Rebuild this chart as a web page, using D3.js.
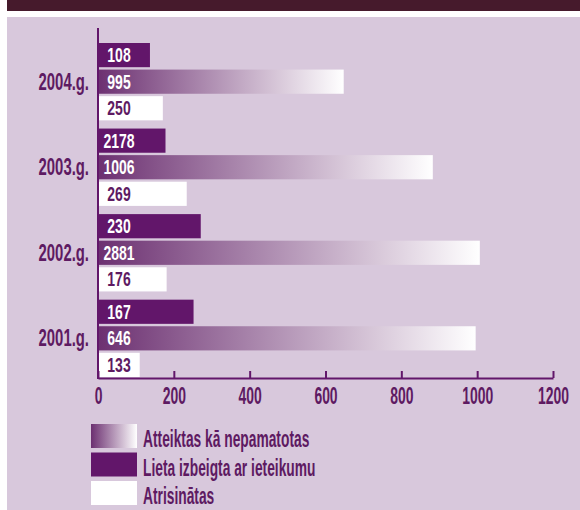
<!DOCTYPE html>
<html>
<head>
<meta charset="utf-8">
<script src="https://cdn.jsdelivr.net/npm/d3@7"></script>
<style>
	body { margin: 0; background: #ffffff; }
	svg text { font-family: 'Liberation Sans', Arial, sans-serif; font-weight: bold; }
</style>
</head>
<body>
<div id="chart"></div>
<script>
'use strict'

// Dati
var years = ["2004.g.", "2003.g.", "2002.g.", "2001.g."];
var series = ["closed", "rejected", "resolved"];
var seriesNames = ["Atteiktas kā nepamatotas", "Lieta izbeigta ar ieteikumu", "Atrisinātas"];

// garums no attēla
var closedValues   = [137, 178, 271, 252];
var rejectedValues = [648, 883, 1007, 996];
var resolvedValues = [171, 234, 181, 110];

// uzraksti uz stabiņiem
var closedLabels   = ["108", "2178", "230", "167"];
var rejectedLabels = ["995", "1006", "2881", "646"];
var resolvedLabels = ["250", "269", "176", "133"];

var xTicks = [0, 200, 400, 600, 800, 1000, 1200];

var purple = '#62166a';
var textPurple = '#5e1a62';

var width = 580;
var height = 510;

var svg = d3.select("#chart")
	.append('svg')
	.attr("width", width)
	.attr("height", height);

var defs = svg.append("defs");
var grad = defs.append("linearGradient")
	.attr("id", "fade")
	.attr("x1", "0%").attr("x2", "100%")
	.attr("y1", "0%").attr("y2", "0%");
grad.append("stop").attr("offset", "0%").attr("stop-color", "#6c3071");
grad.append("stop").attr("offset", "100%").attr("stop-color", "#ffffff");

// fons
svg.append("rect")
	.attr("x", 7).attr("y", 0)
	.attr("width", width - 7).attr("height", 11)
	.attr("fill", "#461a2c");
svg.append("rect")
	.attr("x", 7).attr("y", 17)
	.attr("width", width - 7).attr("height", height - 17)
	.attr("fill", "#d8c8dc");

var x = d3.scaleLinear()
	.domain([0, 1200])
	.range([98, 553]);

var y = d3.scaleBand()
	.domain(years)
	.range([43, 377])
	.paddingInner(0.096);

var ySub = d3.scaleBand()
	.domain(series)
	.range([0, y.bandwidth()])
	.paddingInner(0.09);

var rows = years.map(function(yr, i){
	return [
		{ year: yr, key: "closed", value: closedValues[i], label: closedLabels[i] },
		{ year: yr, key: "rejected", value: rejectedValues[i], label: rejectedLabels[i] },
		{ year: yr, key: "resolved", value: resolvedValues[i], label: resolvedLabels[i] }
	];
});
var bars = [].concat.apply([], rows);

function fillFor(key){
	if(key == "closed") return purple;
	if(key == "rejected") return "url(#fade)";
	return "#ffffff";
}

// šaurs burtu stils (condensed)
function narrow(tx, ty, s){
	return "translate(" + tx + "," + ty + ") scale(" + s + ",1)";
}

svg.append("g")
	.selectAll("rect")
	.data(bars)
	.enter()
	.append("rect")
		.attr("x", x(0))
		.attr("y", function(d){ return y(d.year) + ySub(d.key); })
		.attr("width", function(d){ return x(d.value) - x(0); })
		.attr("height", ySub.bandwidth())
		.attr("fill", function(d){ return fillFor(d.key); });

svg.append("g")
	.selectAll("text")
	.data(bars)
	.enter()
	.append("text")
		.attr("transform", function(d){
			return narrow(119, y(d.year) + ySub(d.key) + ySub.bandwidth() / 2 + 7, 0.7);
		})
		.attr("text-anchor", "middle")
		.style("font-size", "20px")
		.style("fill", function(d){ return d.key == "resolved" ? textPurple : "#ffffff"; })
		.text(function(d){ return d.label; });

// x ass
var xAxis = svg.append("g")
	.attr("transform", "translate(0,378)")
	.call(d3.axisBottom(x)
		.tickValues(xTicks)
		.tickFormat(d3.format("d"))
		.tickSize(-7)
		.tickSizeOuter(0)
		.tickPadding(9));
xAxis.select(".domain").attr("stroke", purple).attr("stroke-width", 2);
xAxis.selectAll(".tick line").attr("stroke", purple).attr("stroke-width", 2);
xAxis.selectAll(".tick text")
	.attr("transform", "scale(0.58,1)")
	.style("font-family", "'Liberation Sans', Arial, sans-serif")
	.style("font-weight", "bold")
	.style("font-size", "24px")
	.style("fill", textPurple);

// y ass
svg.append("line")
	.attr("x1", x(0)).attr("x2", x(0))
	.attr("y1", 28).attr("y2", 379)
	.attr("stroke", purple)
	.attr("stroke-width", 2);

svg.append("g")
	.selectAll("text")
	.data(years)
	.enter()
	.append("text")
		.attr("transform", function(d){ return narrow(89, y(d) + y.bandwidth() / 2 + 8, 0.62); })
		.attr("text-anchor", "end")
		.style("font-size", "24px")
		.style("fill", textPurple)
		.text(function(d){ return d; });

// leģenda
var legendFills = ["url(#fadeLegend)", purple, "#ffffff"];
var lg = defs.append("linearGradient")
	.attr("id", "fadeLegend")
	.attr("x1", "0%").attr("x2", "100%");
lg.append("stop").attr("offset", "0%").attr("stop-color", "#6c3071");
lg.append("stop").attr("offset", "100%").attr("stop-color", "#ffffff");

var legend = svg.append("g")
	.selectAll("g")
	.data(seriesNames)
	.enter()
	.append("g")
		.attr("transform", function(d, i){ return "translate(91," + (424 + i * 28.5) + ")"; });

legend.append("rect")
	.attr("width", 46)
	.attr("height", 24)
	.attr("fill", function(d, i){ return legendFills[i]; });

legend.append("text")
	.attr("transform", narrow(52, 23, 0.6))
	.style("font-size", "23px")
	.style("fill", textPurple)
	.text(function(d){ return d; });
</script>
</body>
</html>
